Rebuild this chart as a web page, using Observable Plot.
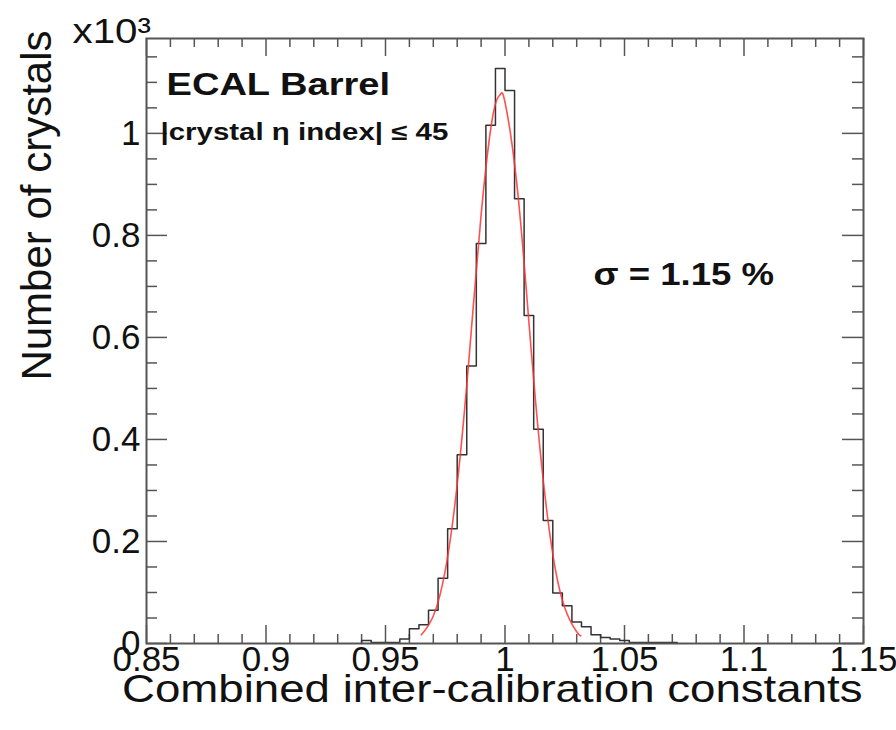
<!DOCTYPE html>
<html>
<head>
<meta charset="utf-8">
<script src="https://cdn.jsdelivr.net/npm/d3@7"></script>
<script src="https://cdn.jsdelivr.net/npm/@observablehq/plot@0.6"></script>
<style>
  html, body { margin: 0; padding: 0; background: white; }
  #chart { width: 896px; height: 730px; }
</style>
</head>
<body>
<div id="chart"></div>
<script>
// Histogram bins (lower edge, width 0.004) and counts
const binLow = [0.940, 0.944, 0.948, 0.952, 0.956, 0.960, 0.964, 0.968, 0.972, 0.976,
                0.980, 0.984, 0.988, 0.992, 0.996, 1.000, 1.004, 1.008, 1.012, 1.016,
                1.020, 1.024, 1.028, 1.032, 1.036, 1.040, 1.044, 1.048, 1.052, 1.056,
                1.060, 1.064, 1.068];
const counts = [6, 2, 2, 2, 9, 29, 37, 65, 128, 225,
                370, 544, 784, 1016, 1127, 1084, 872, 643, 420, 241,
                99, 74, 42, 33, 17, 12, 9, 6, 2, 2,
                2, 2, 2];
const binWidth = 0.004;

// Gaussian fit curve
const fitX = [0.965, 0.970, 0.975, 0.980, 0.985, 0.990, 0.995, 0.998, 1.000, 1.005, 1.010, 1.015, 1.020, 1.025, 1.030, 1.0317];
const fitY = [17, 54, 143, 312, 562, 840, 1037, 1076, 1061, 899, 630, 365, 175, 70, 23, 15];

// Axis ticks and labels
const xTicks = [0.85, 0.9, 0.95, 1, 1.05, 1.1, 1.15];
const xTickLabels = ["0.85", "0.9", "0.95", "1", "1.05", "1.1", "1.15"];
const yTicks = [0, 0.2, 0.4, 0.6, 0.8, 1];
const yTickLabels = ["0", "0.2", "0.4", "0.6", "0.8", "1"];

const xLabel = "Combined inter-calibration constants";
const yLabel = "Number of crystals";
const yScaleNote = "x10³";
const title1 = "ECAL Barrel";
const title2 = "|crystal η index| ≤ 45";
const sigmaText = "σ = 1.15 %";

// Build step outline
const steps = [{x: binLow[0], y: 0}]
  .concat(binLow.map((x, i) => ({x, y: counts[i]})))
  .concat([{x: binLow[binLow.length - 1] + binWidth, y: 0}]);
const fit = fitX.map((x, i) => ({x, y: fitY[i]}));

const W = 896, H = 730, mL = 146, mR = 33, mT = 38, mB = 87;
const fw = W - mL - mR, fh = H - mT - mB;
const xMinor = d3.range(0, 31).map(i => 0.85 + i * 0.01).filter(v => !xTicks.some(t => Math.abs(t - v) < 1e-6));
const yMinor = d3.range(0, 24).map(i => i * 0.05).filter(v => !yTicks.some(t => Math.abs(t - v) < 1e-6));
const tickColor = "#555";

const plot = Plot.plot({
  width: W, height: H,
  marginLeft: mL, marginRight: mR, marginTop: mT, marginBottom: mB,
  style: {fontFamily: "'Liberation Sans', Arial, sans-serif", background: "white", color: "#111"},
  x: {domain: [0.85, 1.15]},
  y: {domain: [0, 1.186]},
  marks: [
    // ticks inside frame: bottom / top
    Plot.tickX(xTicks, {x: d => d, insetTop: fh - 18, stroke: tickColor, strokeWidth: 1.5}),
    Plot.tickX(xTicks, {x: d => d, insetBottom: fh - 18, stroke: tickColor, strokeWidth: 1.5}),
    Plot.tickX(xMinor, {x: d => d, insetTop: fh - 9, stroke: tickColor, strokeWidth: 1.5}),
    Plot.tickX(xMinor, {x: d => d, insetBottom: fh - 9, stroke: tickColor, strokeWidth: 1.5}),
    // ticks inside frame: left / right
    Plot.tickY(yTicks, {y: d => d, insetRight: fw - 21, stroke: tickColor, strokeWidth: 1.5}),
    Plot.tickY(yTicks, {y: d => d, insetLeft: fw - 21, stroke: tickColor, strokeWidth: 1.5}),
    Plot.tickY(yMinor, {y: d => d, insetRight: fw - 11, stroke: tickColor, strokeWidth: 1.5}),
    Plot.tickY(yMinor, {y: d => d, insetLeft: fw - 11, stroke: tickColor, strokeWidth: 1.5}),
    // axis labels
    Plot.axisX({ticks: xTicks, tickSize: 0, tickPadding: 3, fontSize: 35, label: null,
                tickFormat: d => xTickLabels[xTicks.findIndex(t => Math.abs(t - d) < 1e-9)]}),
    Plot.axisY({ticks: yTicks, tickSize: 0, tickPadding: 6, fontSize: 35, label: null,
                tickFormat: d => yTickLabels[yTicks.findIndex(t => Math.abs(t - d) < 1e-9)]}),
    // histogram
    Plot.line(steps, {x: "x", y: d => d.y / 1000, curve: "step-after", stroke: "#333", strokeWidth: 1.5}),
    // fit
    Plot.line(fit, {x: "x", y: d => d.y / 1000, curve: "natural", stroke: "#ff3333", strokeWidth: 1.6, strokeOpacity: 0.85}),
    Plot.frame({stroke: "#555", strokeWidth: 2}),
    // texts
    Plot.text([yScaleNote], {frameAnchor: "top-left", dx: -74, dy: -7, textAnchor: "start", lineAnchor: "middle", fontSize: 36, fill: "#111"}),
    Plot.text([title1], {frameAnchor: "top-left", dx: 20, dy: 46, textAnchor: "start", lineAnchor: "middle", fontSize: 32, fontWeight: "bold", fill: "#111"}),
    Plot.text([title2], {frameAnchor: "top-left", dx: 14, dy: 94, textAnchor: "start", lineAnchor: "middle", fontSize: 23, fontWeight: "bold", fill: "#111"}),
    Plot.text([sigmaText], {frameAnchor: "top-left", dx: 447, dy: 237, textAnchor: "start", lineAnchor: "middle", fontSize: 31, fontWeight: "bold", fill: "#111"}),
    Plot.text([yLabel], {frameAnchor: "top-left", dx: -109, dy: -8, rotate: -90, textAnchor: "end", lineAnchor: "middle", fontSize: 42, fill: "#111"}),
    Plot.text([xLabel], {frameAnchor: "bottom-right", dx: -1, dy: 46, textAnchor: "end", lineAnchor: "middle", fontSize: 39, fill: "#111"})
  ]
});

// The reference lettering is drawn wider than Arial-metric glyphs: stretch horizontally
const stretch = new Map([
  [xLabel, 1.17], [yScaleNote, 1.12], [title1, 1.19], [title2, 1.28], [sigmaText, 1.18]
]);
plot.querySelectorAll("text").forEach(t => {
  const s = stretch.get(t.textContent);
  if (!s) return;
  const tr = t.getAttribute("transform");
  if (tr && tr.includes("translate")) {
    t.setAttribute("transform", tr + ` scale(${s},1)`);
  } else {
    const x = +(t.getAttribute("x") || 0), y = +(t.getAttribute("y") || 0);
    t.setAttribute("transform", `translate(${x},${y}) scale(${s},1) translate(${-x},${-y})`);
  }
});
document.getElementById("chart").appendChild(plot);
</script>
</body>
</html>
